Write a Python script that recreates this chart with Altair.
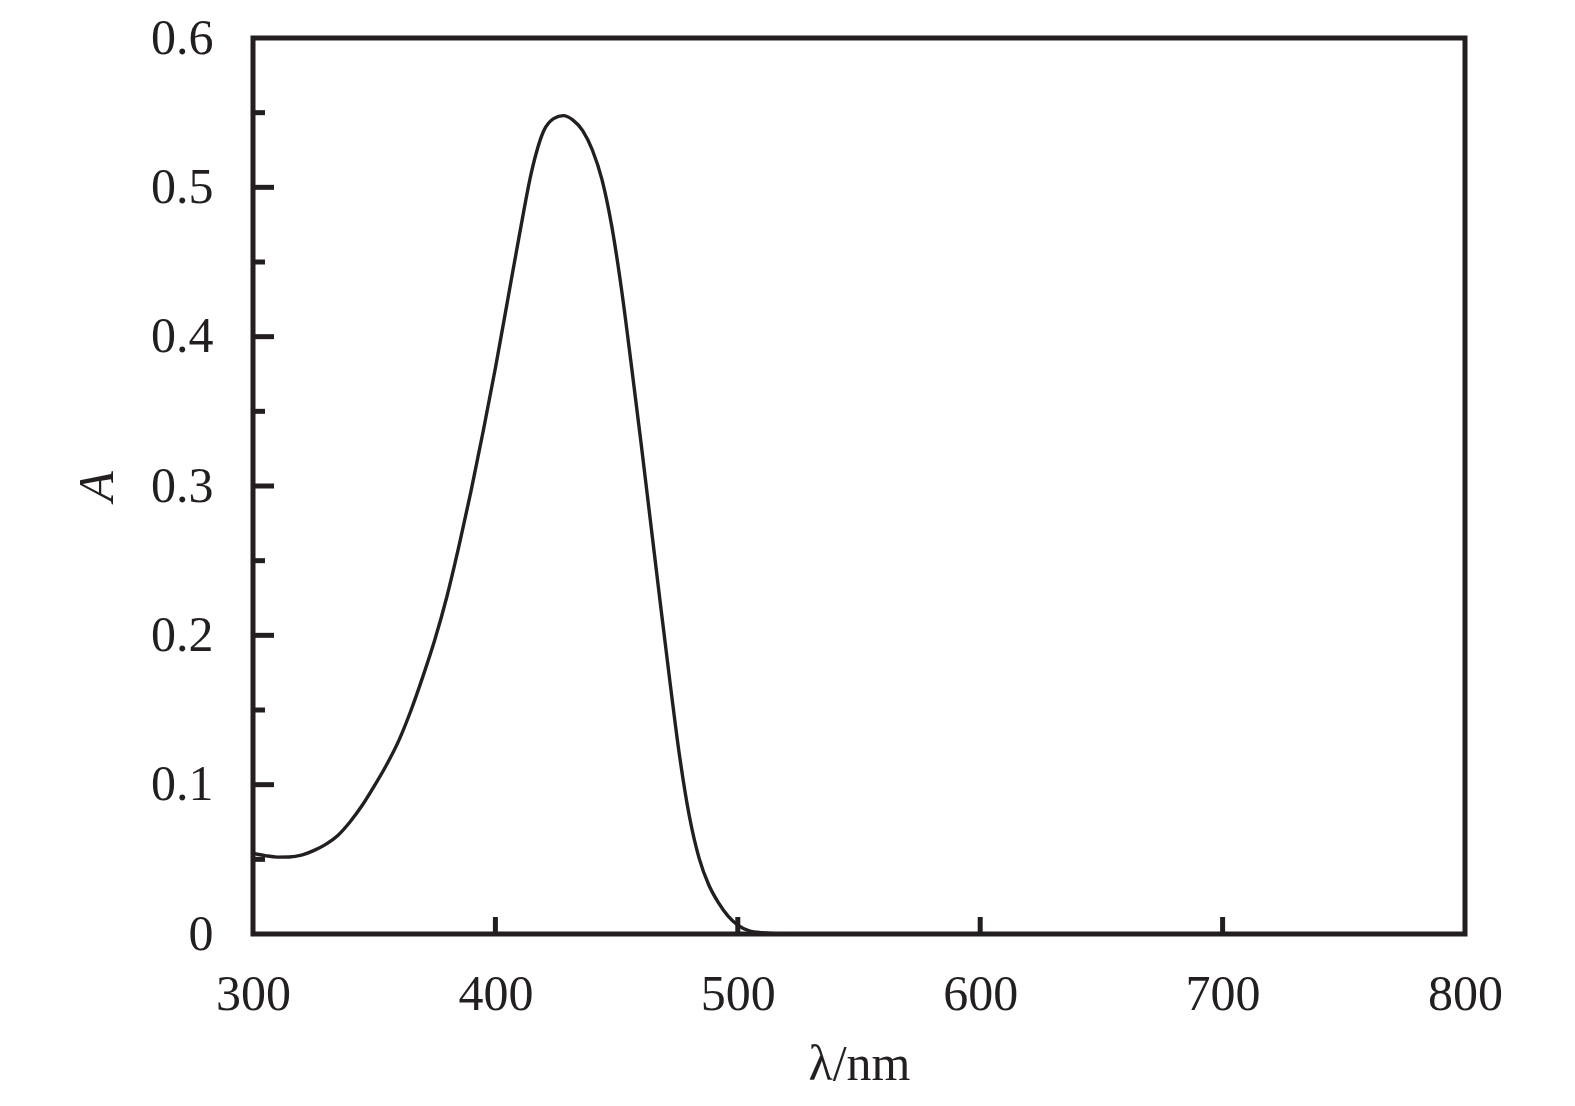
import altair as alt
import pandas as pd

# Absorption spectrum
wavelength = [300, 305, 310, 315, 320, 325, 330, 335, 340, 345, 350, 355, 360, 365,
              370, 375, 380, 385, 390, 395, 400, 405, 410, 415, 420, 424, 428, 432,
              436, 440, 444, 448, 452, 456, 460, 464, 468, 472, 476, 480, 484, 488,
              492, 496, 500, 505, 510, 515, 520]
absorbance = [0.054, 0.0525, 0.0515, 0.0516, 0.0528, 0.0558, 0.060, 0.066, 0.075, 0.086,
              0.099, 0.113, 0.129, 0.149, 0.172, 0.197, 0.226, 0.260, 0.297, 0.337,
              0.379, 0.424, 0.469, 0.511, 0.538, 0.546, 0.548, 0.545, 0.538, 0.525,
              0.505, 0.474, 0.432, 0.382, 0.330, 0.276, 0.222, 0.169, 0.119, 0.079,
              0.051, 0.033, 0.021, 0.012, 0.006, 0.002, 0.0008, 0.0002, 0.0]

x_label_values = [300, 400, 500, 600, 700, 800]
y_label_values = [0, 0.1, 0.2, 0.3, 0.4, 0.5, 0.6]
x_tick_values = [400, 500, 600, 700]
y_major_ticks = [0.1, 0.2, 0.3, 0.4, 0.5]
y_minor_ticks = [0.05, 0.15, 0.25, 0.35, 0.45, 0.55]

INK = "#231f20"
FONT = "Liberation Serif"

xscale = alt.Scale(domain=[300, 800], nice=False, zero=False)
yscale = alt.Scale(domain=[0, 0.6], nice=False, zero=False)
xaxis = alt.Axis(values=x_label_values, format="d", title="λ/nm")
yaxis = alt.Axis(values=y_label_values, format="~g", title="A", titleFontStyle="italic")

curve_df = pd.DataFrame({"wavelength": wavelength, "A": absorbance})

line = alt.Chart(curve_df).mark_line(color=INK, strokeWidth=3.4, interpolate="monotone").encode(
    x=alt.X("wavelength:Q", scale=xscale, axis=xaxis),
    y=alt.Y("A:Q", scale=yscale, axis=yaxis),
)

xt = alt.Chart(pd.DataFrame({"v": x_tick_values})).mark_tick(
    orient="vertical", size=17, thickness=5, yOffset=-8.5, color=INK, opacity=1
).encode(
    x=alt.X("v:Q", scale=xscale, axis=xaxis),
    y=alt.YDatum(0, scale=yscale, axis=yaxis),
)

yt_major = alt.Chart(pd.DataFrame({"v": y_major_ticks})).mark_tick(
    orient="horizontal", size=21, thickness=5, xOffset=10.5, color=INK, opacity=1
).encode(
    y=alt.Y("v:Q", scale=yscale, axis=yaxis),
    x=alt.XDatum(300, scale=xscale, axis=xaxis),
)

yt_minor = alt.Chart(pd.DataFrame({"v": y_minor_ticks})).mark_tick(
    orient="horizontal", size=12, thickness=5, xOffset=6, color=INK, opacity=1
).encode(
    y=alt.Y("v:Q", scale=yscale, axis=yaxis),
    x=alt.XDatum(300, scale=xscale, axis=xaxis),
)

chart = alt.layer(line, xt, yt_major, yt_minor).properties(
    width=1212, height=896,
    autosize=alt.AutoSizeParams(type="none"),
    padding={"left": 245, "top": 30, "right": 100, "bottom": 164},
    background="white",
).configure_view(
    stroke=INK, strokeWidth=5
).configure_axis(
    domain=False, ticks=False, tickSize=0, grid=False,
    labelFont=FONT, labelFontSize=50, labelColor=INK,
    labelFlush=False, labelOverlap=False,
    titleFont=FONT, titleFontSize=50, titleColor=INK, titleFontWeight="normal",
).configure_axisX(
    labelPadding=35, titlePadding=20
).configure_axisY(
    labelPadding=40, titlePadding=28
)

chart.save("out.html", embed_options={"renderer": "svg", "actions": False})
